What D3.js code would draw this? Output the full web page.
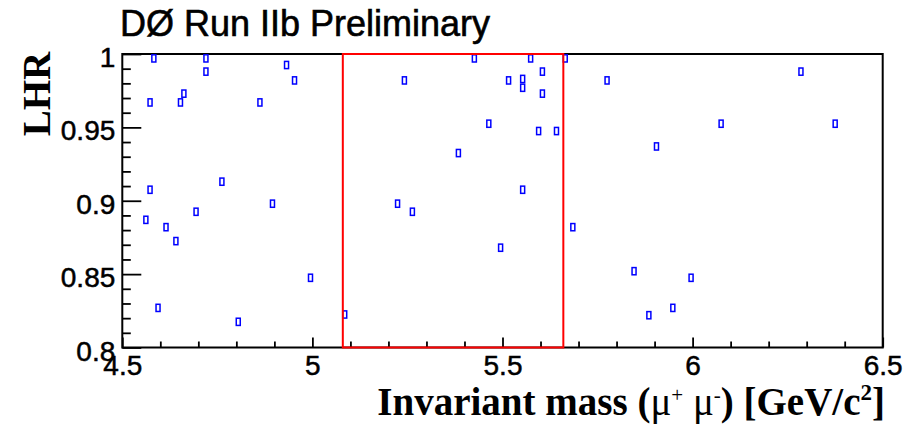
<!DOCTYPE html>
<html>
<head>
<meta charset="utf-8">
<script src="https://cdn.jsdelivr.net/npm/d3@7"></script>
<style>
  html, body { margin: 0; padding: 0; background: #fff; }
  svg { display: block; }
</style>
</head>
<body>
<svg id="chart" width="918" height="429"></svg>
<script>
// ---- data ----
const massValues = [
  4.583, 4.720, 4.720, 4.932, 4.953, 4.662, 4.573, 4.653, 4.862, 4.762,
  4.573, 4.895, 4.562, 4.694, 4.615, 4.641, 4.995, 4.594, 4.805,
  5.085, 5.426, 5.574, 5.665, 5.605, 5.242, 5.516, 5.553, 5.553, 5.605,
  5.464, 5.595, 5.642, 5.384, 5.553, 5.224, 5.263, 5.495,
  5.685, 5.775, 6.285, 6.075, 6.375, 5.905, 5.846, 5.996, 5.948, 5.885
];
const lhrValues = [
  0.997, 0.997, 0.988, 0.9925, 0.982, 0.973, 0.967, 0.967, 0.967, 0.913,
  0.9075, 0.898, 0.887, 0.8925, 0.882, 0.8725, 0.8475, 0.827, 0.8175,
  0.8225, 0.997, 0.997, 0.997, 0.988, 0.982, 0.982, 0.983, 0.977, 0.973,
  0.9525, 0.9475, 0.9475, 0.9325, 0.9075, 0.898, 0.8925, 0.868,
  0.882, 0.982, 0.988, 0.9525, 0.9525, 0.937, 0.852, 0.8475, 0.827, 0.822
];
const signalWindow = [5.08, 5.66];
const xDomain = [4.5, 6.5];
const yDomain = [0.8, 1.0];
const xMajorTicks = [4.5, 5, 5.5, 6, 6.5];
const xTickLabels = ["4.5", "5", "5.5", "6", "6.5"];
const yMajorTicks = [0.8, 0.85, 0.9, 0.95, 1.0];
const yTickLabels = ["0.8", "0.85", "0.9", "0.95", "1"];
const titleText = "DØ Run IIb Preliminary";
const yTitle = "LHR";

// ---- layout ----
const svg = d3.select("#chart");
const L = 122.3, R = 882.7, T = 54, B = 347.5;
const x = d3.scaleLinear().domain(xDomain).range([L, R]);
const y = d3.scaleLinear().domain(yDomain).range([B, T]);
const sans = "'Liberation Sans', Arial, Helvetica, sans-serif";
const serif = "'Liberation Serif', 'Times New Roman', serif";

const xMinor = d3.range(45, 66).map(d => d / 10).filter(d => !xMajorTicks.some(m => Math.abs(m - d) < 1e-6));
const yMinor = d3.range(80, 101).map(d => d / 100).filter(d => !yMajorTicks.some(m => Math.abs(m - d) < 1e-6));

const gxm = svg.append("g").attr("transform", `translate(0,${B})`)
  .call(d3.axisBottom(x).tickValues(xMinor).tickSizeInner(-6).tickSizeOuter(0).tickFormat(""));
const gx = svg.append("g").attr("transform", `translate(0,${B})`)
  .call(d3.axisBottom(x).tickValues(xMajorTicks).tickSizeInner(-10).tickSizeOuter(0)
    .tickFormat((d, i) => xTickLabels[i]));
const gym = svg.append("g").attr("transform", `translate(${L},0)`)
  .call(d3.axisLeft(y).tickValues(yMinor).tickSizeInner(-8.5).tickSizeOuter(0).tickFormat(""));
const gy = svg.append("g").attr("transform", `translate(${L},0)`)
  .call(d3.axisLeft(y).tickValues(yMajorTicks).tickSizeInner(-19).tickSizeOuter(0)
    .tickFormat((d, i) => yTickLabels[i]));

[gxm, gx, gym, gy].forEach(g => {
  g.select(".domain").remove();
  g.selectAll(".tick line").attr("stroke", "#000").attr("stroke-width", 1.8);
});
gx.selectAll(".tick text")
  .attr("y", 0).attr("dy", 27.5)
  .attr("font-family", sans).attr("font-size", 28).attr("fill", "#000")
  .attr("stroke", "#000").attr("stroke-width", 0.5);
gy.selectAll(".tick text")
  .attr("x", -7).attr("dy", 12.5)
  .attr("font-family", sans).attr("font-size", 28).attr("fill", "#000")
  .attr("stroke", "#000").attr("stroke-width", 0.5);

// frame
svg.append("rect")
  .attr("x", L).attr("y", T).attr("width", R - L).attr("height", B - T)
  .attr("fill", "none").attr("stroke", "#000").attr("stroke-width", 2);

// points
const pts = massValues.map((m, i) => ({ m, v: lhrValues[i] }));
svg.append("g").selectAll("rect").data(pts).join("rect")
  .attr("x", d => x(d.m) - 2).attr("y", d => y(d.v) - 3.6)
  .attr("width", 4).attr("height", 7.2)
  .attr("fill", "none").attr("stroke", "#0000ff").attr("stroke-width", 1.5);

// signal window box
svg.append("rect")
  .attr("x", x(signalWindow[0])).attr("y", T)
  .attr("width", x(signalWindow[1]) - x(signalWindow[0])).attr("height", B - T)
  .attr("fill", "none").attr("stroke", "#ff0000").attr("stroke-width", 2);

// title
svg.append("text")
  .attr("x", 120).attr("y", 36)
  .attr("font-family", sans).attr("font-size", 36).attr("fill", "#000")
  .attr("stroke", "#000").attr("stroke-width", 0.6)
  .text(titleText);

// y axis title
svg.append("text")
  .attr("transform", "translate(50,94) rotate(-90)")
  .attr("text-anchor", "middle")
  .attr("font-family", serif)
  .attr("font-weight", "bold").attr("font-size", 39).attr("fill", "#000")
  .text(yTitle);

// x axis title
const xt = svg.append("text")
  .attr("x", 885).attr("y", 415).attr("text-anchor", "end")
  .attr("font-family", serif)
  .attr("font-weight", "bold").attr("font-size", 39).attr("fill", "#000");
xt.append("tspan").text("Invariant mass (");
xt.append("tspan").attr("font-weight", "normal").text("μ");
xt.append("tspan").attr("font-size", 21).attr("dy", -13).attr("font-weight", "normal").text("+");
xt.append("tspan").attr("dy", 13).text(" ");
xt.append("tspan").attr("font-weight", "normal").text("μ");
xt.append("tspan").attr("font-size", 21).attr("dy", -13).attr("font-weight", "normal").text("-");
xt.append("tspan").attr("dy", 13).text(") [GeV/c");
xt.append("tspan").attr("font-size", 23).attr("dy", -15).text("2");
xt.append("tspan").attr("dy", 15).text("]");
</script>
</body>
</html>
